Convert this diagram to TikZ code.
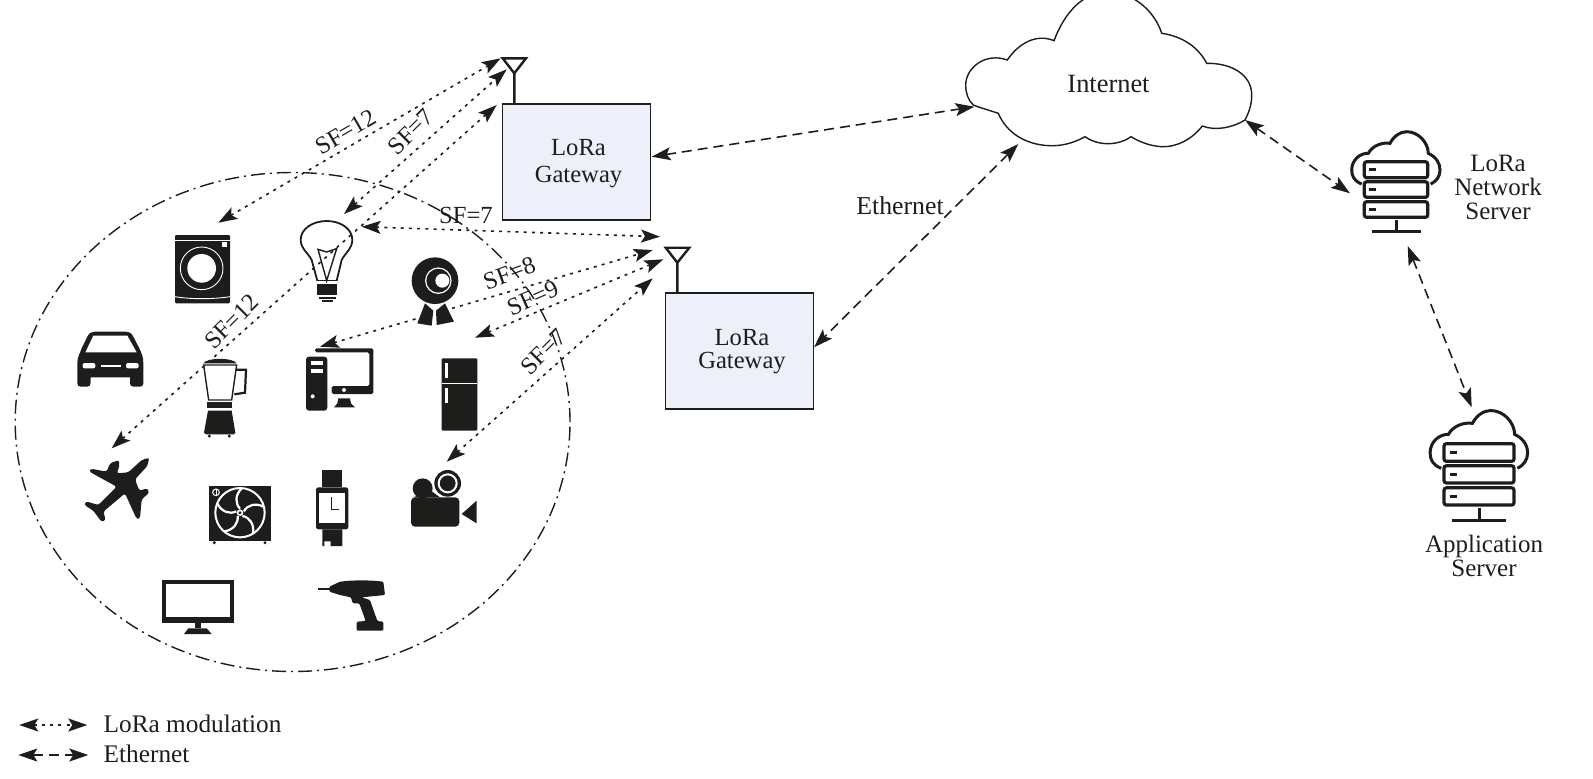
\documentclass[tikz,border=0pt]{standalone}
\usepackage{fontspec}
\setmainfont{Liberation Serif}
\usetikzlibrary{arrows.meta,shapes.geometric}
\definecolor{ink}{HTML}{1D1D1B}
\definecolor{gwfill}{HTML}{EDF0F9}
\tikzset{
  lbl/.style={font=\fontsize{12.3}{14}\selectfont,text=ink,inner sep=0pt,align=center},
  gwbox/.style={draw=ink,fill=gwfill,line width=.7pt,minimum width=74pt,minimum height=58pt,inner sep=0pt},
  antenna/.style={draw=ink,line width=1.2pt},
  lora/.style={ink,line width=.8pt,dash pattern=on 1.5pt off 2.6pt,<->},
  ether/.style={ink,line width=.8pt,dash pattern=on 5pt off 3pt,<->},
  wh/.style={fill=white,draw=none},
  wl/.style={draw=white,line width=.45pt},
  serverpic/.pic={
    \foreach \a/\b in {-28.3/-12.3,-8.3/7.3,11.7/27.3}{
      \draw[ink,line width=1.6pt,rounded corners=1.2pt] (-31.7,\a) rectangle (31.7,\b);
      \draw[ink,line width=1.4pt] (-26.7,{(\a+\b)/2}) -- (-20.3,{(\a+\b)/2});
    }
    \draw[ink,line width=1.5pt] (0,30) -- (0,41.7) (-24.5,41.7) -- (24.5,41.7);
    \draw[ink,line width=1.5pt] (-34.3,-6) .. controls (-42,-9) and (-44.3,-14) .. (-44.3,-20)
      .. controls (-44.3,-30) and (-36,-37) .. (-27.7,-36.7)
      .. controls (-24,-44) and (-14,-48) .. (-6,-46.7)
      .. controls (-2,-54) and (4,-58.3) .. (10.7,-58.3)
      .. controls (22,-58.3) and (32,-48) .. (32.3,-36.7)
      .. controls (40,-33) and (44,-27) .. (44,-20)
      .. controls (44,-14) and (41,-9) .. (34.7,-6);
  }
}
\begin{document}
\begin{tikzpicture}[x=.5pt,y=-.5pt,>={Stealth[length=9.5pt,width=6.5pt,inset=2pt]}]
\clip (0,0) rectangle (1593,778);
% device region
\node[draw=ink,line width=.7pt,dash pattern=on 7pt off 2.5pt on 1pt off 2.5pt,ellipse,minimum width=277.4pt,minimum height=249.5pt,inner sep=0pt] (region) at (292.6,422) {};
% --- icons traced in 3x zoom units ---
\begin{scope}[shift={(0,200)},scale=1/3]
 % washer
 \fill[ink,rounded corners=.6pt] (525,105) rectangle (690,310);
 \draw[wl] (525,120) -- (690,120);
 \fill[wh] (667,125) rectangle (682,140);
 \draw[wl] (605,205) circle (64);
 \fill[wh] (605,205) circle (43);
 \draw[wl] (525,290) .. controls (570,298) and (640,298) .. (690,290);
 % car
 \fill[ink] (232,490) .. controls (232,470) and (240,460) .. (245,445) -- (262,410) .. controls (268,398) and (275,395) .. (285,395) -- (375,395) .. controls (388,395) and (395,400) .. (400,410) -- (418,445) .. controls (425,460) and (430,470) .. (430,490) -- (430,550) .. controls (430,558) and (425,560) .. (420,560) -- (400,560) .. controls (392,560) and (390,555) .. (390,548) -- (390,532) -- (272,532) -- (272,548) .. controls (272,555) and (268,560) .. (262,560) -- (242,560) .. controls (235,560) and (232,556) .. (232,550) -- cycle;
 \fill[wh] (256,457) -- (280,407) -- (382,407) -- (410,457) -- cycle;
 \fill[wh,rounded corners=1pt] (248,489) rectangle (286,505);
 \fill[wh,rounded corners=1pt] (378,489) rectangle (416,505);
 \fill[wh] (302,494) rectangle (364,501);
 % blender
 \fill[ink] (610,490) .. controls (620,472) and (700,472) .. (710,490) -- cycle;
 \draw[ink,line width=.7pt] (611,495) -- (710,495) -- (695,600) -- (626,600) -- cycle;
 \draw[ink,line width=1.1pt] (708,509) -- (738,509) -- (735,578) -- (703,583);
 \fill[ink] (622,605) rectangle (696,625);
 \fill[ink] (624,632) -- (695,632) -- (706,698) -- (702,703) -- (618,703) -- (612,698) -- cycle;
 \fill[ink] (628,708) circle (5);
 \fill[ink] (688,708) circle (5);
\end{scope}
\begin{scope}[shift={(280,40)},scale=1/3]
 % bulb
 \draw[ink,line width=.9pt] (112,722) -- (95,660) .. controls (85,640) and (62,625) .. (62,600) .. controls (62,565) and (100,543) .. (140,543) .. controls (180,543) and (217,565) .. (217,600) .. controls (217,625) and (195,640) .. (185,660) -- (170,722);
 \draw[ink,line width=.7pt] (112,722) -- (170,722);
 \draw[ink,line width=.7pt] (140,722) -- (114,628) -- (140,636) -- (170,626) -- cycle;
 \fill[ink] (112,733) rectangle (172,765);
 \fill[ink] (117,770) rectangle (167,776);
 \fill[ink] (125,781) rectangle (160,787);
 % webcam
 \fill[ink] (465,722) circle (70);
 \draw[white,line width=.6pt] (475,722) circle (38);
 \fill[wh] (487,722) circle (21);
 \fill[ink] (435,790) -- (412,850) -- (455,857) -- (460,812) -- cycle;
 \fill[ink] (468,812) -- (495,790) -- (522,845) -- (470,855) -- cycle;
\end{scope}
\begin{scope}[shift={(290,330)},scale=1/3]
 % computer
 \fill[ink,rounded corners=1.5pt] (48,80) rectangle (112,242);
 \fill[wh] (62,92) rectangle (100,105);
 \fill[wh] (62,117) rectangle (100,130);
 \fill[wh] (68,199) circle (6);
 \fill[ink,rounded corners=.8pt] (75,55) -- (250,55) -- (250,192) -- (125,192) -- (125,168) -- (238,168) -- (238,67) -- (75,67) -- cycle;
 \fill[wh] (162,180) circle (6);
 \fill[ink] (145,205) -- (180,205) -- (183,220) -- (195,232) -- (132,232) -- (142,220) -- cycle;
 % fridge
 \fill[ink,rounded corners=.6pt] (455,85) rectangle (562,302);
 \draw[wl] (455,160) -- (562,160);
 \fill[wh] (466,100) rectangle (475,145);
 \fill[wh] (466,175) rectangle (475,218);
\end{scope}
\begin{scope}[shift={(60,440)},scale=1/3]
 % plane
 \fill[ink,rounded corners=1.2pt] (268,53) -- (262,78) -- (225,118) -- (238,152) -- (262,145) -- (268,158) -- (245,178) -- (240,235) -- (230,237) -- (195,160) -- (130,215) -- (137,240) -- (125,246) -- (100,212) -- (73,195) -- (78,184) -- (115,195) -- (170,140) -- (88,95) -- (92,86) -- (140,95) -- (150,70) -- (177,60) -- (178,80) -- (170,100) -- (205,97) -- (245,60) -- cycle;
 % fan unit
 \fill[ink] (448,137) rectangle (633,302);
 \fill[ink] (463,308) circle (5);
 \fill[ink] (615,308) circle (5);
 \draw[white,line width=.5pt] (468,157) circle (10);
 \draw[white,line width=.3pt] (468,147) -- (468,167);
 \draw[white,line width=1pt] (540,218) circle (74);
 \foreach \ang in {0,72,144,216,288}{
   \draw[white,line width=1.1pt,rotate around={\ang:(540,218)}] (540,206) .. controls (525,190) and (525,165) .. (545,145);
 }
 \fill[wh] (540,218) circle (10);
 \fill[ink] (540,218) circle (5);
 % watch
 \fill[ink] (787,90) rectangle (847,140);
 \fill[ink,rounded corners=1.2pt] (768,142) rectangle (865,268);
 \fill[wh] (778,160) rectangle (855,248);
 \draw[ink,line width=.8pt] (815,172) -- (815,208) -- (838,208);
 \fill[ink] (787,268) -- (847,268) -- (847,318) -- (812,318) -- (812,304) -- (793,304) -- (793,318) -- (787,318) -- cycle;
 % camcorder
 \fill[ink,rounded corners=2pt] (1053,172) rectangle (1198,260);
 \fill[ink] (1088,145) circle (30);
 \fill[ink] (1163,130) circle (40);
 \fill[ink] (1060,172) -- (1110,150) -- (1140,172) -- cycle;
 \draw[white,line width=1pt] (1163,130) circle (27);
 \fill[ink] (1205,222) -- (1250,182) -- (1250,250) -- cycle;
 % screen
 \fill[ink] (305,420) rectangle (521,550);
 \fill[wh] (317,432) rectangle (510,530);
 \fill[ink] (404,550) rectangle (422,565);
 \fill[ink] (372,582) -- (385,565) -- (440,565) -- (455,582) -- cycle;
 % drill
 \draw[ink,line width=.7pt] (775,447) -- (810,447);
 \fill[ink,rounded corners=.6pt] (808,440) -- (840,425) .. controls (880,420) and (930,420) .. (970,425) -- (975,465) -- (905,472) -- (930,480) -- (952,543) -- (970,545) -- (970,572) -- (890,572) -- (890,545) -- (917,543) -- (898,490) -- (878,490) -- (873,472) -- (840,465) -- (808,455) -- cycle;
\end{scope}
% --- cloud ---
\draw[ink,line width=.7pt,fill=white] (1007.3,60)
  .. controls (1018,44) and (1036,33) .. (1054,40.7)
  .. controls (1064,14) and (1082,-8) .. (1108,-8)
  .. controls (1134,-8) and (1155,12) .. (1161.7,33.3)
  .. controls (1180,36) and (1197,45) .. (1206.7,63.3)
  .. controls (1232,63) and (1251.7,75) .. (1251.7,95)
  .. controls (1251.7,106) and (1248,114) .. (1245,120)
  .. controls (1232,128) and (1215,131) .. (1202.3,126)
  .. controls (1192,139) and (1178,147) .. (1161.7,146.7)
  .. controls (1150,146) and (1140,142) .. (1131,136.7)
  .. controls (1118,146) and (1098,146) .. (1085,136.7)
  .. controls (1072,144) and (1060,146) .. (1050,145.7)
  .. controls (1025,145) and (1006,132) .. (998.3,113.3)
  .. controls (985,109) and (978,107) .. (973.3,105)
  .. controls (968,100) and (965.7,93) .. (965.7,85)
  .. controls (965.7,68) and (985,52) .. (1007.3,60) -- cycle;
\node[lbl,font=\fontsize{13.2}{14}\selectfont] (internet) at (1108.5,83.5) {Internet};
% --- gateways ---
\node[gwbox] (gwa) at (576.3,162) {};
\node[lbl,font=\fontsize{12.3}{13.8}\selectfont] (gwatext) at (578.5,163.5) {LoRa\\Gateway};
\node[gwbox] (gwb) at (739.5,350.8) {};
\node[lbl,font=\fontsize{12.3}{11.5}\selectfont] (gwbtext) at (742,351.5) {LoRa\\Gateway};
\draw[antenna] (514.3,104) -- (514.3,73.3) (502.7,58.3) -- (526,58.3) -- (514.3,73.3) -- cycle;
\draw[antenna] (677.3,292.7) -- (677.3,262.7) (665.7,247.7) -- (689.3,247.7) -- (677.3,262.7) -- cycle;
% --- servers ---
\pic at (1396,190) {serverpic};
\pic[scale=1.104] at (1479,474.9) {serverpic};
\node[lbl,font=\fontsize{12.5}{11.8}\selectfont] (nstext) at (1498,187.5) {LoRa\\Network\\Server};
\node[lbl,font=\fontsize{12.5}{12}\selectfont] (astext) at (1484,555.5) {Application\\Server};
\node[lbl,font=\fontsize{12.9}{14}\selectfont] (ethlbl) at (900,205.5) {Ethernet};
% --- connector ends ---
\coordinate (a1) at (500.7,58.3);  \coordinate (w1) at (218.3,222.7);
\coordinate (a2) at (506.7,69.3);  \coordinate (b1) at (344,214);
\coordinate (a3) at (496.7,105);   \coordinate (p1) at (111.7,448.3);
\coordinate (c1) at (361.7,226.7); \coordinate (c2) at (660,236.7);
\coordinate (d1) at (320,346.7);   \coordinate (d2) at (652.7,250);
\coordinate (e1) at (475,337.7);   \coordinate (e2) at (663.3,259.3);
\coordinate (f1) at (446.7,461.7); \coordinate (f2) at (652.7,278.3);
\coordinate (g1) at (651.7,156.7); \coordinate (g2) at (974.3,106.7);
\coordinate (h1) at (1018.3,144);  \coordinate (h2) at (814,347.3);
\coordinate (i1) at (1245,120);    \coordinate (i2) at (1350,193.3);
\coordinate (j1) at (1407.7,246);  \coordinate (j2) at (1471.7,407.3);
\coordinate (k1) at (19.3,725);    \coordinate (k2) at (87.3,725);
\coordinate (l1) at (18.3,755);    \coordinate (l2) at (88.3,755);
\draw[lora] (w1) -- (a1);
\draw[lora] (b1) -- (a2);
\draw[lora] (p1) -- (a3);
\draw[lora] (c1) -- (c2);
\draw[lora] (d1) -- (d2);
\draw[lora] (e1) -- (e2);
\draw[lora] (f1) -- (f2);
\draw[ether] (g1) -- (g2);
\draw[ether] (h1) -- (h2);
\draw[ether] (i1) -- (i2);
\draw[ether] (j1) -- (j2);
\draw[lora] (k1) -- (k2);
\draw[ether] (l1) -- (l2);
% --- SF labels ---
\node[lbl,rotate=30] (sfa) at (345.7,131.7) {SF=12};
\node[lbl,rotate=45] (sfb) at (410.7,131.7) {SF=7};
\node[lbl] (sfc) at (466,215) {SF=7};
\node[lbl,rotate=20] (sfd) at (509.3,273.3) {SF=8};
\node[lbl,rotate=24] (sfe) at (532.7,298.3) {SF=9};
\node[lbl,rotate=45] (sff) at (543.3,351.7) {SF=7};
\node[lbl,rotate=45] (sfg) at (231.7,321.7) {SF=12};
% --- legend ---
\node[lbl,font=\fontsize{12.65}{14}\selectfont,anchor=west] (lega) at (103.3,724) {LoRa modulation};
\node[lbl,font=\fontsize{12.65}{14}\selectfont,anchor=west] (legb) at (103.3,753.5) {Ethernet};
\end{tikzpicture}
\end{document}
